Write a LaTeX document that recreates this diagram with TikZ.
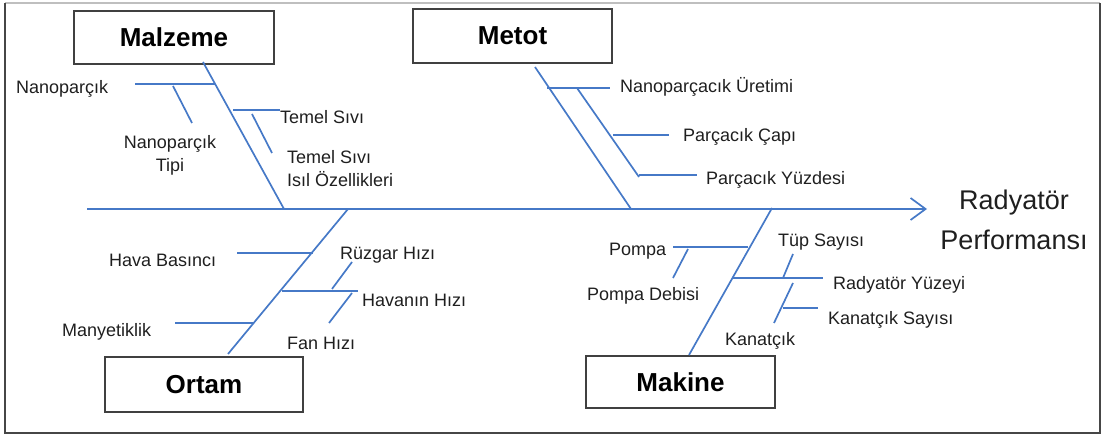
\documentclass[tikz,border=0pt]{standalone}
\usepackage{fontspec}
\setmainfont{Liberation Sans}
\usetikzlibrary{arrows.meta}
\definecolor{bone}{RGB}{70,121,199}
\definecolor{framegray}{RGB}{70,70,70}
\tikzset{
  bonel/.style={draw=bone, line width=1.7pt},
  spine/.style={bonel, -{Straight Barb[length=15pt,width=22pt,line width=1.7pt]}},
  catbox/.style={draw=black!75, line width=1.4pt, fill=white, inner sep=0pt,
    font=\fontsize{26}{30}\selectfont\bfseries},
  lbl/.style={inner sep=0pt, font=\fontsize{18}{23}\selectfont, text=black!88},
}
\begin{document}
\begin{tikzpicture}[x=1pt,y=-1pt]
\useasboundingbox (0,0) rectangle (1103,435);
% outer frame
\draw[black!25, line width=1.2pt] (5,3) -- (1100,3);
\draw[framegray, line width=1.5pt] (1100,3) -- (1100,433) -- (5,433) -- (5,3);

% category boxes
\node[catbox, minimum width=200pt, minimum height=53pt] (malz) at (174,37.5) {Malzeme};
\node[catbox, minimum width=199pt, minimum height=54pt] (metot) at (512.5,36) {Metot};
\node[catbox, minimum width=198pt, minimum height=55pt] (ortam) at (204,384.5) {Ortam};
\node[catbox, minimum width=189pt, minimum height=52pt] (makine) at (680.5,382) {Makine};

% effect
\node[inner sep=0pt, align=center, font=\fontsize{27}{40}\selectfont, text=black!88]
  (effect) at (1014,220) {Radyatör\\Performansı};

% spine
\coordinate (sp0) at (87,209);
\coordinate (sp1) at (927,209);
\draw[spine] (sp0) -- (sp1);

% ---- Malzeme ----
\coordinate (mzA) at (203,62);  \coordinate (mzB) at (284,209);
\draw[bonel] (mzA) -- (mzB);
\node[lbl, anchor=west] (np) at (16,89) {Nanoparçık};
\coordinate (np0) at (135,84); \coordinate (np1) at (215,84);
\draw[bonel] (np0) -- (np1);
\coordinate (npt0) at (173,86); \coordinate (npt1) at (192,123);
\draw[bonel] (npt0) -- (npt1);
\node[lbl, align=center] (npt) at (170,155) {Nanoparçık\\Tipi};
\coordinate (ts0) at (233,110); \coordinate (ts1) at (280,110);
\draw[bonel] (ts0) -- (ts1);
\node[lbl, anchor=west] (ts) at (280,117) {Temel Sıvı};
\coordinate (tsi0) at (252,114); \coordinate (tsi1) at (272,153);
\draw[bonel] (tsi0) -- (tsi1);
\node[lbl, anchor=west, align=left] (tsi) at (287,168.5) {Temel Sıvı\\Isıl Özellikleri};

% ---- Metot ----
\coordinate (mtA) at (535,67);  \coordinate (mtB) at (631,209);
\draw[bonel] (mtA) -- (mtB);
\coordinate (nu0) at (547,88); \coordinate (nu1) at (610,88);
\draw[bonel] (nu0) -- (nu1);
\node[lbl, anchor=west] (nu) at (620,87) {Nanoparçacık Üretimi};
\coordinate (nus0) at (577,88); \coordinate (nus1) at (639,177);
\draw[bonel] (nus0) -- (nus1);
\coordinate (pc0) at (613,135); \coordinate (pc1) at (669,135);
\draw[bonel] (pc0) -- (pc1);
\node[lbl, anchor=west] (pc) at (683,137) {Parçacık Çapı};
\coordinate (py0) at (639,175); \coordinate (py1) at (697,175);
\draw[bonel] (py0) -- (py1);
\node[lbl, anchor=west] (py) at (706,180) {Parçacık Yüzdesi};

% ---- Ortam ----
\coordinate (otA) at (348,209);  \coordinate (otB) at (228,354);
\draw[bonel] (otA) -- (otB);
\coordinate (hb0) at (237,253); \coordinate (hb1) at (313,253);
\draw[bonel] (hb0) -- (hb1);
\node[lbl, anchor=west] (hb) at (109,260) {Hava Basıncı};
\coordinate (my0) at (175,323); \coordinate (my1) at (253,323);
\draw[bonel] (my0) -- (my1);
\node[lbl, anchor=west] (my) at (62,332) {Manyetiklik};
\coordinate (hh0) at (282,291); \coordinate (hh1) at (358,291);
\draw[bonel] (hh0) -- (hh1);
\node[lbl, anchor=west] (hh) at (362,300) {Havanın Hızı};
\coordinate (rz0) at (352,262); \coordinate (rz1) at (332,289);
\draw[bonel] (rz0) -- (rz1);
\node[lbl, anchor=west] (rz) at (340,255) {Rüzgar Hızı};
\coordinate (fh0) at (352,293); \coordinate (fh1) at (329,323);
\draw[bonel] (fh0) -- (fh1);
\node[lbl, anchor=west] (fh) at (287,343) {Fan Hızı};

% ---- Makine ----
\coordinate (mkA) at (772,208);  \coordinate (mkB) at (689,355);
\draw[bonel] (mkA) -- (mkB);
\coordinate (pm0) at (673,247); \coordinate (pm1) at (748,247);
\draw[bonel] (pm0) -- (pm1);
\node[lbl, anchor=west] (pm) at (609,251) {Pompa};
\coordinate (pd0) at (688,249); \coordinate (pd1) at (673,278);
\draw[bonel] (pd0) -- (pd1);
\node[lbl, anchor=west] (pd) at (587,296) {Pompa Debisi};
\coordinate (ry0) at (733,278); \coordinate (ry1) at (823,278);
\draw[bonel] (ry0) -- (ry1);
\node[lbl, anchor=west] (ry) at (833,285) {Radyatör Yüzeyi};
\coordinate (tp0) at (793,254); \coordinate (tp1) at (783,278);
\draw[bonel] (tp0) -- (tp1);
\node[lbl, anchor=west] (tp) at (778,242) {Tüp Sayısı};
\coordinate (kn0) at (793,283); \coordinate (kn1) at (774,323);
\draw[bonel] (kn0) -- (kn1);
\node[lbl, anchor=west] (kn) at (725,341) {Kanatçık};
\coordinate (ks0) at (783,308); \coordinate (ks1) at (818,308);
\draw[bonel] (ks0) -- (ks1);
\node[lbl, anchor=west] (ks) at (828,320) {Kanatçık Sayısı};
\end{tikzpicture}
\end{document}
